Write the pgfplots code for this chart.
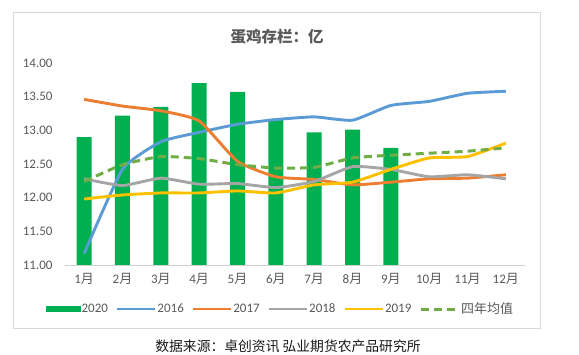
\documentclass[border=0pt]{standalone}
\usepackage{pgfplots}
\pgfplotsset{compat=1.18}
\usepackage{fontspec}
\setmainfont{Carlito}
\newfontfamily\cjk{Noto Sans CJK SC}
\definecolor{c20}{HTML}{00B050}
\definecolor{c16}{HTML}{5B9BD5}
\definecolor{c17}{HTML}{ED7D31}
\definecolor{c18}{HTML}{A5A5A5}
\definecolor{c19}{HTML}{FFC000}
\definecolor{cav}{HTML}{70AD47}
\definecolor{txt}{HTML}{595959}
\begin{document}
\begin{tikzpicture}
\useasboundingbox (0,0) rectangle (579pt,355pt);
\draw[draw=black!15, line width=0.8pt] (13pt,27pt) rectangle (540pt,343pt);
\node[text=txt, font=\cjk\bfseries\fontsize{15.5}{18}\selectfont] at (277pt,318pt) {蛋鸡存栏：亿};
\node[text=black!90, font=\cjk\fontsize{13.8}{16}\selectfont] at (288pt,9pt) {数据来源：卓创资讯 弘业期货农产品研究所};
\begin{axis}[
  at={(65pt,90pt)}, anchor=south west,
  scale only axis, width=460pt, height=202pt,
  xmin=0.5, xmax=12.5, ymin=11, ymax=14,
  axis x line=bottom, axis y line=left,
  axis line style={-},
  x axis line style={draw=black!18, line width=0.8pt},
  y axis line style={draw=none},
  major tick length=0pt,
  xtick={1,...,12},
  xticklabels={1{\cjk 月},2{\cjk 月},3{\cjk 月},4{\cjk 月},5{\cjk 月},6{\cjk 月},7{\cjk 月},8{\cjk 月},9{\cjk 月},10{\cjk 月},11{\cjk 月},12{\cjk 月}},
  ytick={11,11.5,...,14},
  /pgf/number format/fixed, /pgf/number format/fixed zerofill, /pgf/number format/precision=2, /pgf/number format/assume math mode=true,
  yticklabel style={xshift=-9pt},
  xticklabel style={yshift=-5pt},
  tick label style={text=txt, font=\fontsize{13}{15}\selectfont},
  legend columns=6,
  legend style={at={(0.467,-0.218)}, anchor=center, draw=none, fill=none,
    font=\fontsize{13}{15}\selectfont, text=txt,
    nodes={inner sep=0.8pt},
    /tikz/every even column/.append style={column sep=7pt}},
  legend image code/.code={\draw[#1] (0pt,0pt) -- (38pt,0pt);},
  clip=false,
]
\addplot[ybar, bar width=15pt, fill=c20, draw=none,
  legend image code/.code={\fill[c20] (0pt,-2.7pt) rectangle (35pt,2.7pt);}]
  coordinates {(1,12.90) (2,13.22) (3,13.35) (4,13.70) (5,13.57) (6,13.17) (7,12.97) (8,13.01) (9,12.74)};
\addlegendentry{2020}
\addplot[c16, line width=2.9pt, smooth, tension=0.3] coordinates {
(1,11.17) (2,12.42) (3,12.83) (4,12.97) (5,13.09) (6,13.16) (7,13.20) (8,13.15) (9,13.37) (10,13.43) (11,13.55) (12,13.58)};
\addlegendentry{2016}
\addplot[c17, line width=2.9pt, smooth, tension=0.3] coordinates {
(1,13.46) (2,13.36) (3,13.29) (4,13.14) (5,12.54) (6,12.31) (7,12.27) (8,12.19) (9,12.23) (10,12.28) (11,12.29) (12,12.34)};
\addlegendentry{2017}
\addplot[c18, line width=2.9pt, smooth, tension=0.3] coordinates {
(1,12.28) (2,12.18) (3,12.29) (4,12.20) (5,12.21) (6,12.15) (7,12.24) (8,12.46) (9,12.42) (10,12.31) (11,12.34) (12,12.28)};
\addlegendentry{2018}
\addplot[c19, line width=2.9pt, smooth, tension=0.3] coordinates {
(1,11.98) (2,12.04) (3,12.07) (4,12.07) (5,12.10) (6,12.07) (7,12.19) (8,12.23) (9,12.42) (10,12.59) (11,12.61) (12,12.81)};
\addlegendentry{2019}
\addplot[cav, line width=3pt, dash pattern=on 8pt off 5pt, smooth, tension=0.3] coordinates {
(1,12.24) (2,12.49) (3,12.61) (4,12.58) (5,12.49) (6,12.44) (7,12.45) (8,12.59) (9,12.63) (10,12.66) (11,12.69) (12,12.74)};
\addlegendentry{{\cjk 四年均值}}
\end{axis}
\end{tikzpicture}
\end{document}
